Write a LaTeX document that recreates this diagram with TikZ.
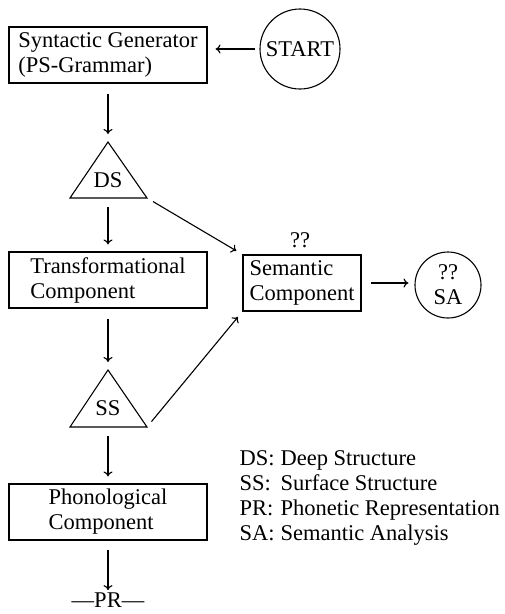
\documentclass[tikz,border=0pt]{standalone}
\usepackage{fontspec}
\setmainfont{Liberation Serif}
\usetikzlibrary{arrows.meta}
\newcommand{\legkey}[1]{\makebox[41pt][l]{#1}}
\begin{document}
\begin{tikzpicture}[x=1pt,y=-1pt,
  font=\fontsize{22.5}{25}\selectfont,
  line width=1.1pt,
  box/.style={draw, align=left, minimum height=56pt, inner xsep=6pt, inner ysep=4pt},
  widebox/.style={box, minimum width=198pt},
  ring/.style={draw, circle, inner sep=0pt, align=center},
  arr/.style={-{To[length=5pt,width=9pt]}},
  plain/.style={inner sep=0pt},
  legline/.style={anchor=base west, inner sep=0pt}]
\useasboundingbox (0,0) rectangle (505,614);

% main column of components
\node[widebox] (gen)   at (108,55)  {Syntactic Generator\\(PS-Grammar)};
\node[widebox] (trans) at (108,280) {Transformational\\Component};
\node[widebox] (phon)  at (108,512) {Phonological\\Component};
\node[box, minimum width=118pt] (sem) at (302,283) {Semantic\\Component};

% start and semantic analysis circles
\node[ring, minimum size=80pt] (start) at (300,49) {START};
\node[ring, minimum size=66pt] (sa) at (448,285) {??\\SA};
\node[plain] (q) at (300,240) {??};

% deep structure triangle
\coordinate (dsA) at (108,142);
\coordinate (dsL) at (70,198);
\coordinate (dsR) at (147,198);
\coordinate (dsB) at (108,198);
\draw (dsA) -- (dsR) -- (dsL) -- cycle;
\node[plain] (ds) at (108,180) {DS};

% surface structure triangle
\coordinate (ssA) at (108,370);
\coordinate (ssL) at (70,427);
\coordinate (ssR) at (147,427);
\coordinate (ssB) at (108,427);
\draw (ssA) -- (ssR) -- (ssL) -- cycle;
\node[plain] (ss) at (108,408) {SS};

% phonetic representation output
\node[plain] (pr) at (108,600) {---PR---};

% connectors
\draw[arr, shorten <=4pt, shorten >=8pt] (start.west) -- (start.west -| gen.east);
\draw[arr, shorten <=10pt, shorten >=8pt] (gen) -- (dsA);
\draw[arr, shorten <=9pt, shorten >=7pt] (dsB) -- (trans);
\draw[arr, shorten <=7pt, shorten >=7pt] (dsR) -- (sem.north west);
\draw[arr, shorten <=10pt, shorten >=8pt] (trans) -- (ssA);
\draw[arr, shorten <=7pt, shorten >=7pt] (ssR) -- (sem.south west);
\draw[arr, shorten <=9pt, shorten >=7pt] (ssB) -- (phon);
\draw[arr, shorten <=9pt, shorten >=2pt] (phon) -- (pr);
\draw[arr, shorten <=9pt, shorten >=6pt] (sem.east) -- (sem.east -| sa.west);

% legend
\node[legline] (leg1) at (239,465) {\legkey{DS:}Deep Structure};
\node[legline] (leg2) at (239,490) {\legkey{SS:}Surface Structure};
\node[legline] (leg3) at (239,515) {\legkey{PR:}Phonetic Representation};
\node[legline] (leg4) at (239,540) {\legkey{SA:}Semantic Analysis};
\end{tikzpicture}
\end{document}
